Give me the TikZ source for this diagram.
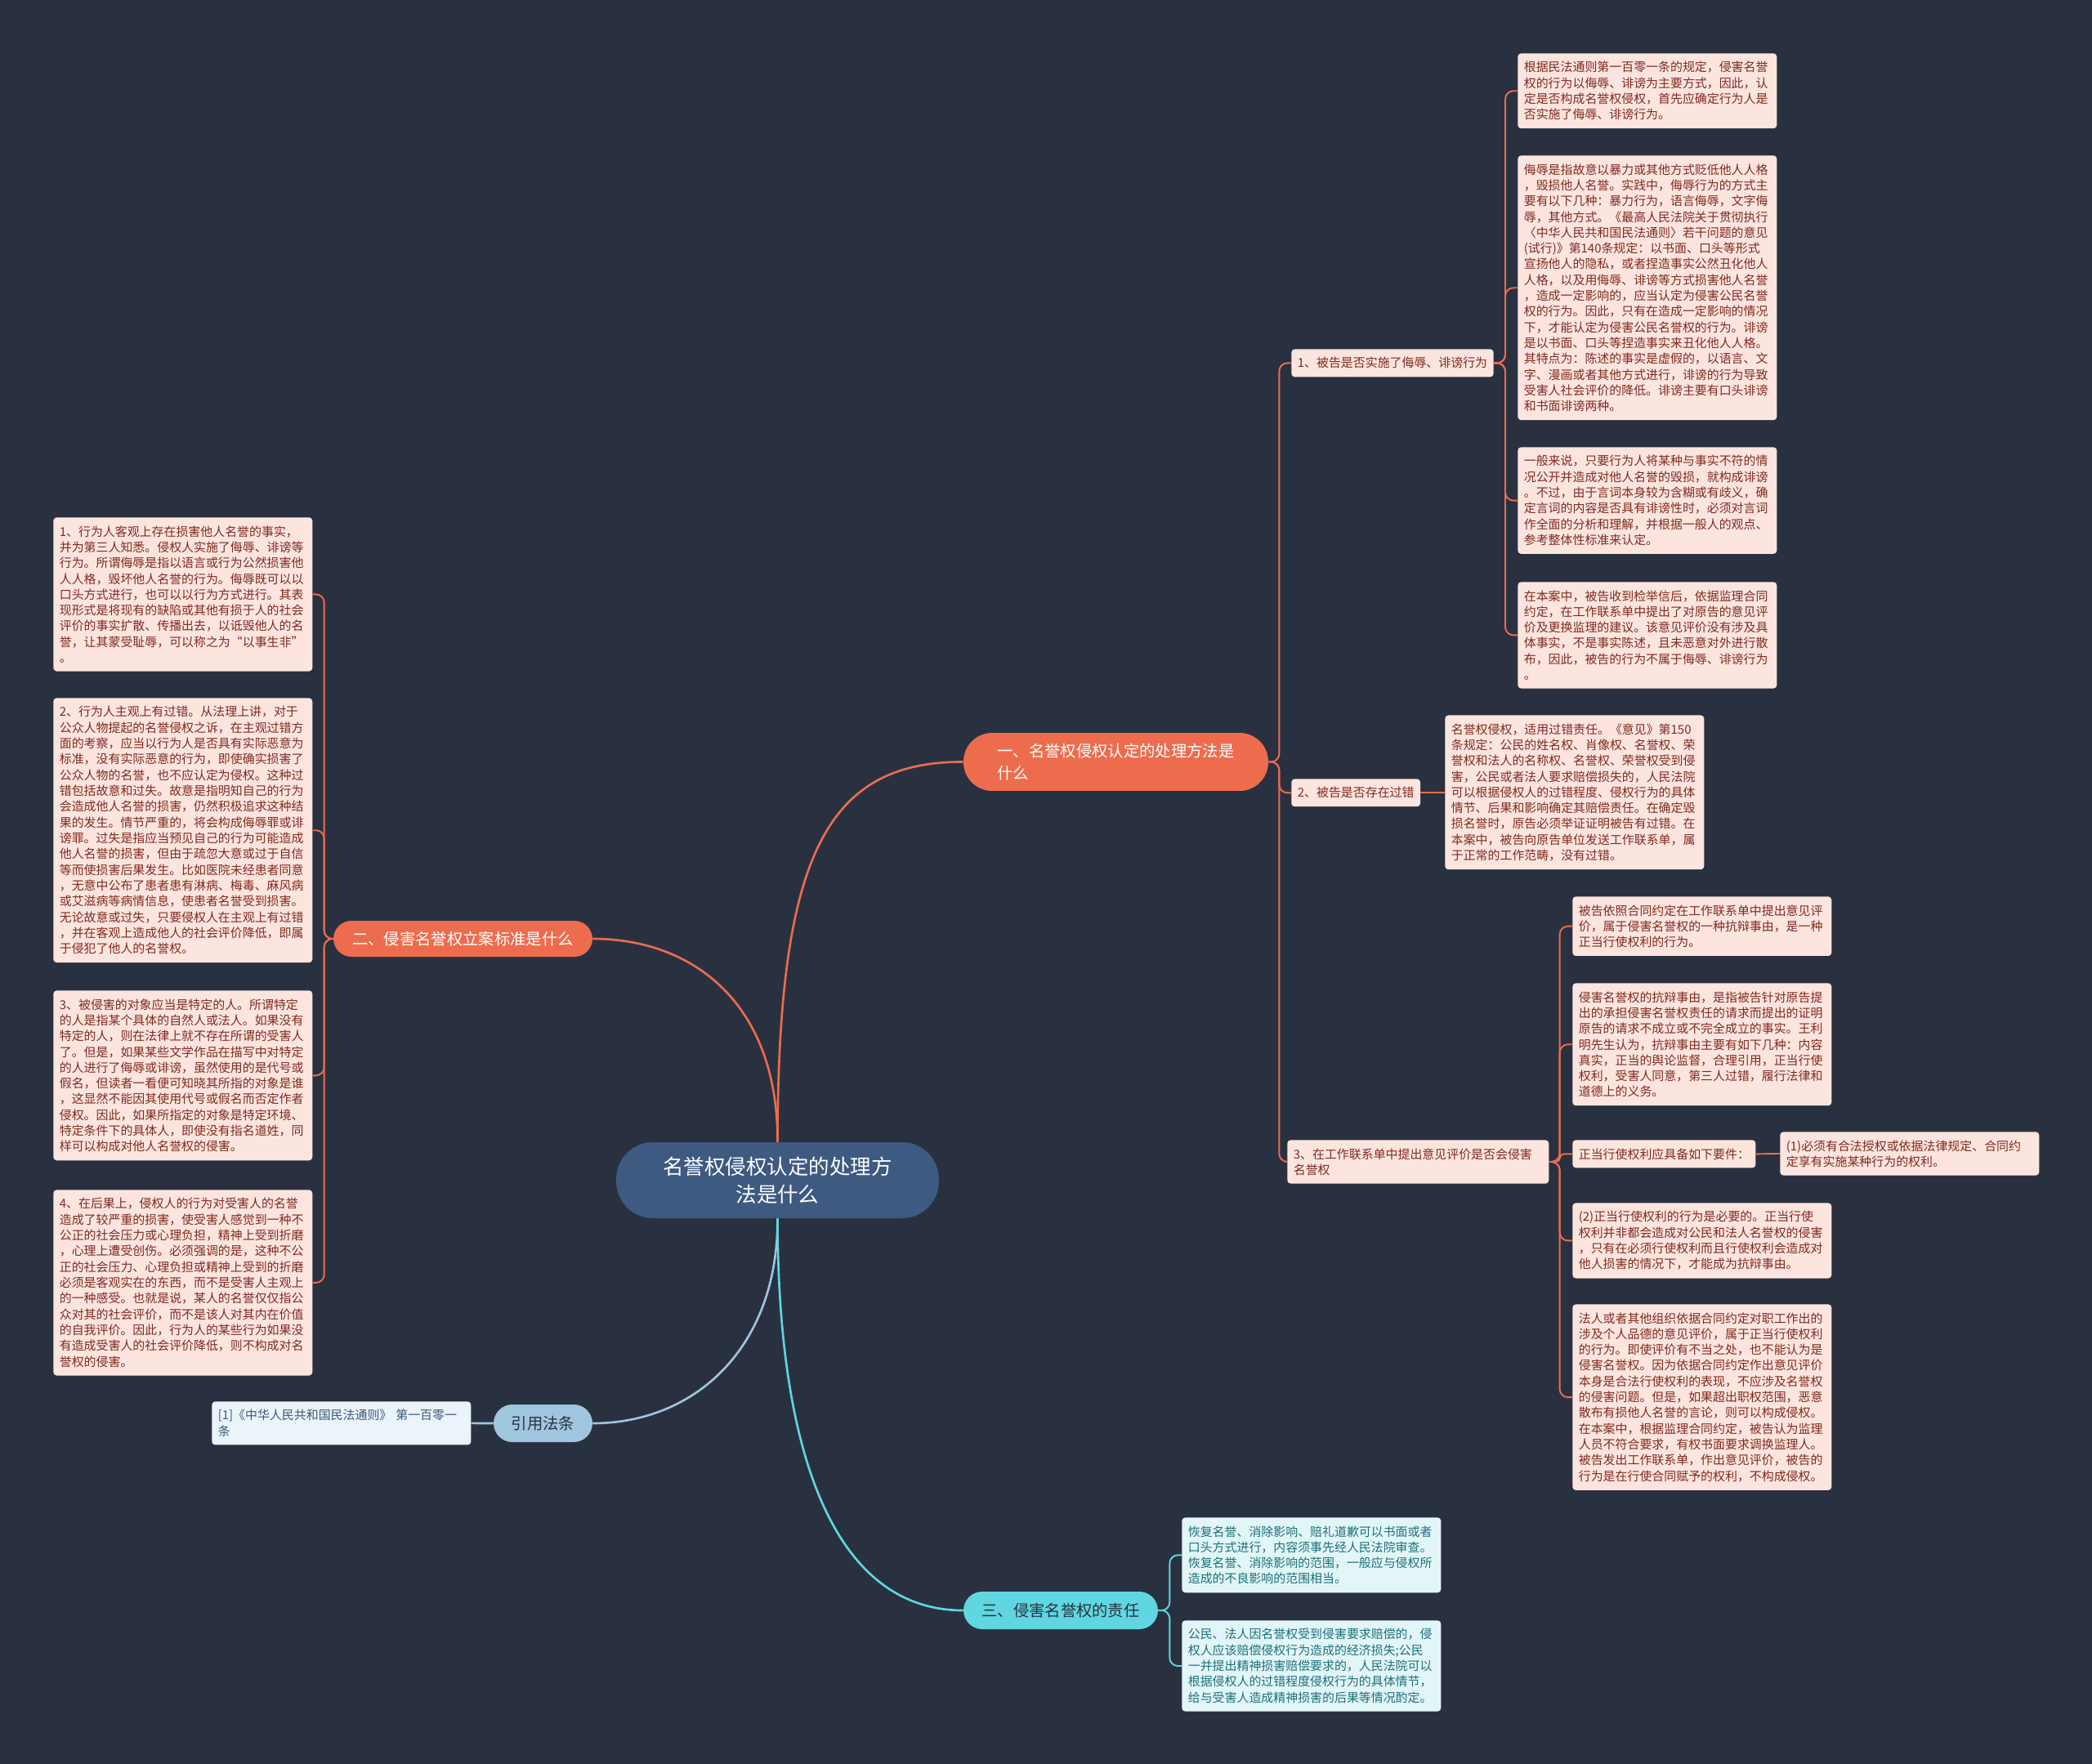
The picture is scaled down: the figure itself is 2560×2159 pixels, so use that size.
\documentclass[tikz,border=0pt]{standalone}
\usepackage{fontspec}
\setmainfont{Noto Sans CJK SC}
\definecolor{bgnavy}{RGB}{41,49,64}
\definecolor{rootblue}{RGB}{62,90,128}
\definecolor{orangebranch}{RGB}{237,108,78}
\definecolor{cyanbranch}{RGB}{96,214,224}
\definecolor{citeblue}{RGB}{160,197,222}
\definecolor{leafpink}{RGB}{252,229,222}
\definecolor{leafred}{RGB}{128,42,32}
\definecolor{leafcyan}{RGB}{226,246,248}
\definecolor{leafteal}{RGB}{28,112,122}
\definecolor{refpale}{RGB}{235,244,250}
\definecolor{refslate}{RGB}{58,88,122}
\newcommand{\leaffont}{\fontsize{8.5pt}{11pt}\selectfont}
\newcommand{\branchfont}{\fontsize{11pt}{15.5pt}\selectfont}
\newcommand{\rootfont}{\fontsize{14.5pt}{19.5pt}\selectfont}
\tikzset{
  /tikz/.cd,
  leaf/.style={fill=leafpink,text=leafred,font=\leaffont,rounded corners=0.08cm,align=left,anchor=north west,inner xsep=0.15cm,inner ysep=0.2cm},
  note/.style={leaf,text width=6.04cm},
  branch/.style={font=\branchfont,align=left,inner sep=0pt}
}

\begin{document}
\begin{tikzpicture}[x=0.02cm,y=-0.02cm,
                    topic/.style={fill=rootblue,text=white,font=\rootfont,align=center,inner sep=0pt,minimum width=7.9cm,minimum height=1.86cm,rounded corners=0.9cm},
                    bough/.style={line width=1.5pt},
                    twig/.style={draw=orangebranch,line width=1.1pt,rounded corners=0.2cm}]
      \fill[bgnavy,use as bounding box] (0,0) rectangle (2560,2159);

      \node[topic] (root) at (951.5,1444.5) {名誉权侵权认定的处理方\\法是什么};

      \node[branch,fill=orangebranch,text=white,minimum width=7.46cm,minimum height=1.42cm,rounded corners=0.7cm] (b1) at (1365.5,932.5) {一、名誉权侵权认定的处理方法是\\什么};
      \node[branch,fill=orangebranch,text=white,minimum width=6.34cm,minimum height=0.88cm,rounded corners=0.44cm] (b2) at (566.5,1149) {二、侵害名誉权立案标准是什么};
      \node[branch,fill=cyanbranch,text=bgnavy,minimum width=4.76cm,minimum height=0.92cm,rounded corners=0.46cm] (b3) at (1298,1971) {三、侵害名誉权的责任};
      \node[branch,fill=citeblue,text=bgnavy,minimum width=2.42cm,minimum height=0.92cm,rounded corners=0.46cm] (cite) at (664.5,1742) {引用法条};

      \draw[bough,orangebranch] (root.north) .. controls (952,1050) and (1010,932) .. (b1.west);
      \draw[bough,orangebranch] (root.north) .. controls (952,1230) and (850,1149) .. (b2.east);
      \draw[bough,citeblue] (root.south) .. controls (952,1650) and (850,1742) .. (cite.east);
      \draw[bough,cyanbranch] (root.south) .. controls (952,1800) and (1030,1971) .. (b3.west);

      \node[leaf] (d1) at (1580,427) {1、被告是否实施了侮辱、诽谤行为};
      \node[leaf] (d2) at (1580,953) {2、被告是否存在过错};
      \node[leaf,text width=6.1cm] (d3) at (1575,1395) {3、在工作联系单中提出意见评价是否会侵害\\名誉权};

      \node[note] (r1a) at (1857,65) {根据民法通则第一百零一条的规定，侵害名誉\\权的行为以侮辱、诽谤为主要方式，因此，认\\定是否构成名誉权侵权，首先应确定行为人是\\否实施了侮辱、诽谤行为。};
      \node[note] (r1b) at (1857,190) {侮辱是指故意以暴力或其他方式贬低他人人格\\，毁损他人名誉。实践中，侮辱行为的方式主\\要有以下几种：暴力行为，语言侮辱，文字侮\\辱，其他方式。《最高人民法院关于贯彻执行\\〈中华人民共和国民法通则〉若干问题的意见\\(试行)》第140条规定：以书面、口头等形式\\宣扬他人的隐私，或者捏造事实公然丑化他人\\人格，以及用侮辱、诽谤等方式损害他人名誉\\，造成一定影响的，应当认定为侵害公民名誉\\权的行为。因此，只有在造成一定影响的情况\\下，才能认定为侵害公民名誉权的行为。诽谤\\是以书面、口头等捏造事实来丑化他人人格。\\其特点为：陈述的事实是虚假的，以语言、文\\字、漫画或者其他方式进行，诽谤的行为导致\\受害人社会评价的降低。诽谤主要有口头诽谤\\和书面诽谤两种。};
      \node[note] (r1c) at (1857,547) {一般来说，只要行为人将某种与事实不符的情\\况公开并造成对他人名誉的毁损，就构成诽谤\\。不过，由于言词本身较为含糊或有歧义，确\\定言词的内容是否具有诽谤性时，必须对言词\\作全面的分析和理解，并根据一般人的观点、\\参考整体性标准来认定。};
      \node[note] (r1d) at (1857,712) {在本案中，被告收到检举信后，依据监理合同\\约定，在工作联系单中提出了对原告的意见评\\价及更换监理的建议。该意见评价没有涉及具\\体事实，不是事实陈述，且未恶意对外进行散\\布，因此，被告的行为不属于侮辱、诽谤行为\\。};

      \node[note] (r2a) at (1768,875) {名誉权侵权，适用过错责任。《意见》第150\\条规定：公民的姓名权、肖像权、名誉权、荣\\誉权和法人的名称权、名誉权、荣誉权受到侵\\害，公民或者法人要求赔偿损失的，人民法院\\可以根据侵权人的过错程度、侵权行为的具体\\情节、后果和影响确定其赔偿责任。在确定毁\\损名誉时，原告必须举证证明被告有过错。在\\本案中，被告向原告单位发送工作联系单，属\\于正常的工作范畴，没有过错。};

      \node[note] (r3a) at (1924,1097) {被告依照合同约定在工作联系单中提出意见评\\价，属于侵害名誉权的一种抗辩事由，是一种\\正当行使权利的行为。};
      \node[note] (r3b) at (1924,1203) {侵害名誉权的抗辩事由，是指被告针对原告提\\出的承担侵害名誉权责任的请求而提出的证明\\原告的请求不成立或不完全成立的事实。王利\\明先生认为，抗辩事由主要有如下几种：内容\\真实，正当的舆论监督，合理引用，正当行使\\权利，受害人同意，第三人过错，履行法律和\\道德上的义务。};
      \node[leaf] (r3c) at (1924,1395) {正当行使权利应具备如下要件：};
      \node[note] (r3d) at (2178,1385) {(1)必须有合法授权或依据法律规定、合同约\\定享有实施某种行为的权利。};
      \node[note] (r3e) at (1924,1472) {(2)正当行使权利的行为是必要的。正当行使\\权利并非都会造成对公民和法人名誉权的侵害\\，只有在必须行使权利而且行使权利会造成对\\他人损害的情况下，才能成为抗辩事由。};
      \node[note] (r3f) at (1924,1596) {法人或者其他组织依据合同约定对职工作出的\\涉及个人品德的意见评价，属于正当行使权利\\的行为。即使评价有不当之处，也不能认为是\\侵害名誉权。因为依据合同约定作出意见评价\\本身是合法行使权利的表现，不应涉及名誉权\\的侵害问题。但是，如果超出职权范围，恶意\\散布有损他人名誉的言论，则可以构成侵权。\\在本案中，根据监理合同约定，被告认为监理\\人员不符合要求，有权书面要求调换监理人。\\被告发出工作联系单，作出意见评价，被告的\\行为是在行使合同赋予的权利，不构成侵权。};

      \node[note] (l1) at (65,633) {1、行为人客观上存在损害他人名誉的事实，\\并为第三人知悉。侵权人实施了侮辱、诽谤等\\行为。所谓侮辱是指以语言或行为公然损害他\\人人格，毁坏他人名誉的行为。侮辱既可以以\\口头方式进行，也可以以行为方式进行。其表\\现形式是将现有的缺陷或其他有损于人的社会\\评价的事实扩散、传播出去，以诋毁他人的名\\誉，让其蒙受耻辱，可以称之为“以事生非”\\。};
      \node[note] (l2) at (65,854) {2、行为人主观上有过错。从法理上讲，对于\\公众人物提起的名誉侵权之诉，在主观过错方\\面的考察，应当以行为人是否具有实际恶意为\\标准，没有实际恶意的行为，即使确实损害了\\公众人物的名誉，也不应认定为侵权。这种过\\错包括故意和过失。故意是指明知自己的行为\\会造成他人名誉的损害，仍然积极追求这种结\\果的发生。情节严重的，将会构成侮辱罪或诽\\谤罪。过失是指应当预见自己的行为可能造成\\他人名誉的损害，但由于疏忽大意或过于自信\\等而使损害后果发生。比如医院未经患者同意\\，无意中公布了患者患有淋病、梅毒、麻风病\\或艾滋病等病情信息，使患者名誉受到损害。\\无论故意或过失，只要侵权人在主观上有过错\\，并在客观上造成他人的社会评价降低，即属\\于侵犯了他人的名誉权。};
      \node[note] (l3) at (65,1212) {3、被侵害的对象应当是特定的人。所谓特定\\的人是指某个具体的自然人或法人。如果没有\\特定的人，则在法律上就不存在所谓的受害人\\了。但是，如果某些文学作品在描写中对特定\\的人进行了侮辱或诽谤，虽然使用的是代号或\\假名，但读者一看便可知晓其所指的对象是谁\\，这显然不能因其使用代号或假名而否定作者\\侵权。因此，如果所指定的对象是特定环境、\\特定条件下的具体人，即使没有指名道姓，同\\样可以构成对他人名誉权的侵害。};
      \node[note] (l4) at (65,1456) {4、在后果上，侵权人的行为对受害人的名誉\\造成了较严重的损害，使受害人感觉到一种不\\公正的社会压力或心理负担，精神上受到折磨\\，心理上遭受创伤。必须强调的是，这种不公\\正的社会压力、心理负担或精神上受到的折磨\\必须是客观实在的东西，而不是受害人主观上\\的一种感受。也就是说，某人的名誉仅仅指公\\众对其的社会评价，而不是该人对其内在价值\\的自我评价。因此，行为人的某些行为如果没\\有造成受害人的社会评价降低，则不构成对名\\誉权的侵害。};

      \node[note,fill=leafcyan,text=leafteal] (t1) at (1446,1857) {恢复名誉、消除影响、赔礼道歉可以书面或者\\口头方式进行，内容须事先经人民法院审查。\\恢复名誉、消除影响的范围，一般应与侵权所\\造成的不良影响的范围相当。};
      \node[note,fill=leafcyan,text=leafteal] (t2) at (1446,1983) {公民、法人因名誉权受到侵害要求赔偿的，侵\\权人应该赔偿侵权行为造成的经济损失;公民\\一并提出精神损害赔偿要求的，人民法院可以\\根据侵权人的过错程度侵权行为的具体情节，\\给与受害人造成精神损害的后果等情况酌定。};

      \node[note,fill=refpale,text=refslate] (ref) at (259,1715) {[1]《中华人民共和国民法通则》 第一百零一\\条};

      \draw[twig] (b1.east) -- ++(13,0) |- (d1.west);
      \draw[twig] (b1.east) -- ++(13,0) |- (d2.west);
      \draw[twig] (b1.east) -- ++(13,0) |- (d3.west);

      \draw[twig] (d1.east) -- ++(14,0) |- (r1a.west);
      \draw[twig] (d1.east) -- ++(14,0) |- (r1b.west);
      \draw[twig] (d1.east) -- ++(14,0) |- (r1c.west);
      \draw[twig] (d1.east) -- ++(14,0) |- (r1d.west);

      \draw[twig] (d2.east) -- (r2a.west |- d2.east);

      \draw[twig] (d3.east) -- ++(13,0) |- (r3a.west);
      \draw[twig] (d3.east) -- ++(13,0) |- (r3b.west);
      \draw[twig,rounded corners=3pt] (d3.east) -- ++(13,0) |- (r3c.west);
      \draw[twig] (d3.east) -- ++(13,0) |- (r3e.west);
      \draw[twig] (d3.east) -- ++(13,0) |- (r3f.west);
      \draw[twig] (r3c.east) -- (r3d.west);

      \draw[twig] (b2.west) -- ++(-11,0) |- (l1.east);
      \draw[twig] (b2.west) -- ++(-11,0) |- (l2.east);
      \draw[twig] (b2.west) -- ++(-11,0) |- (l3.east);
      \draw[twig] (b2.west) -- ++(-11,0) |- (l4.east);

      \draw[twig,draw=cyanbranch] (b3.east) -- ++(14,0) |- (t1.west);
      \draw[twig,draw=cyanbranch] (b3.east) -- ++(14,0) |- (t2.west);

      \draw[bough,citeblue] (cite.west) -- (ref.east);
    \end{tikzpicture}
\end{document}
